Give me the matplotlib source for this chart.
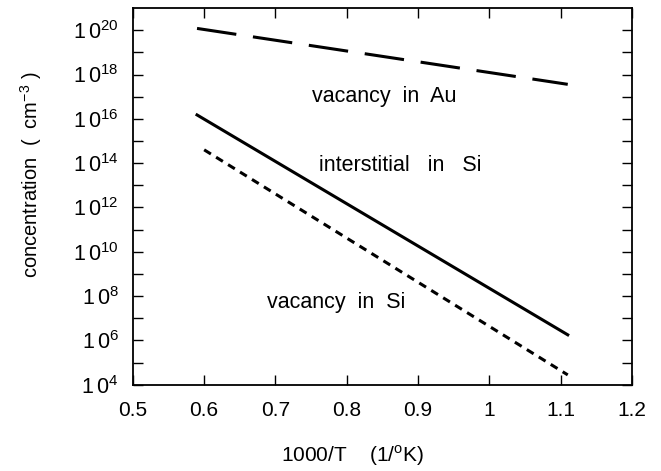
import numpy as np
import matplotlib.pyplot as plt
from matplotlib.ticker import FixedLocator, NullFormatter

plt.rcParams['font.family'] = ['Liberation Sans', 'DejaVu Sans']
plt.rcParams['mathtext.fontset'] = 'custom'
plt.rcParams['mathtext.rm'] = 'Liberation Sans'

# data (endpoints of straight lines in log space)
x_au = [0.59, 1.11]
y_au = [1.2e20, 3.6e17]
x_int = [0.59, 1.11]
y_int = [1.5e16, 1.8e6]
x_vsi = [0.60, 1.11]
y_vsi = [4.0e14, 2.8e4]

xticks = [0.5, 0.6, 0.7, 0.8, 0.9, 1.0, 1.1, 1.2]
xticklabels = ['0.5', '0.6', '0.7', '0.8', '0.9', '1', '1.1', '1.2']
yexp = [4, 6, 8, 10, 12, 14, 16, 18, 20]

fig = plt.figure(figsize=(6.61, 4.71), dpi=100)
ax = fig.add_axes([0.201, 0.183, 0.755, 0.800])

ax.plot(x_au, y_au, color='black', lw=2.2, linestyle=(0, (13, 5.5)), solid_capstyle='butt')
ax.plot(x_int, y_int, color='black', lw=2.2)
ax.plot(x_vsi, y_vsi, color='black', lw=2.2, linestyle=(0, (2.6, 2.0)), dash_capstyle='butt')

ax.set_yscale('log')
ax.set_xlim(0.5, 1.2)
ax.set_ylim(1e4, 1e21)

ax.set_xticks(xticks)
ax.set_xticklabels(xticklabels, fontsize=15)
ax.yaxis.set_major_locator(FixedLocator([10.0 ** e for e in yexp]))
ax.set_yticklabels([r'$\mathregular{1\,0^{%d}}$' % e for e in yexp], fontsize=15.5)
ax.yaxis.set_minor_locator(FixedLocator([10.0 ** e for e in range(5, 21, 2)]))
ax.yaxis.set_minor_formatter(NullFormatter())

ax.tick_params(axis='x', direction='in', top=True, length=7, width=1, pad=12)
ax.tick_params(axis='y', direction='in', right=True, length=7, width=1, pad=10)
ax.tick_params(which='minor', direction='in', right=True, length=7, width=1)
for s in ax.spines.values():
    s.set_linewidth(1.3)

ax.text(0.852, 1.0e17, 'vacancy  in  Au', fontsize=15.5, ha='center', va='center')
ax.text(0.875, 8.0e13, 'interstitial   in   Si', fontsize=15.5, ha='center', va='center')
ax.text(0.785, 5.0e7, 'vacancy  in  Si', fontsize=15.5, ha='center', va='center')

ax.set_ylabel(r'concentration  (  cm$^{\mathregular{-3}}$ )', fontsize=14.5)
ax.yaxis.set_label_coords(-0.178, 0.557)
ax.set_xlabel(r'1000/T    (1/$^{\mathregular{o}}$K)', fontsize=15)
ax.xaxis.set_label_coords(0.44, -0.155)

fig.savefig('out.png', dpi=100)
